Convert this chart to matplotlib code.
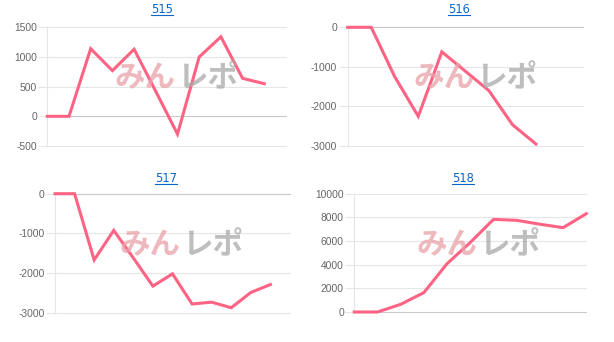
import matplotlib
matplotlib.use("Agg")
import matplotlib.pyplot as plt
from matplotlib.lines import Line2D

W, H = 614, 342
DPI = 100

titles = ["515", "516", "517", "518"]
n_slots = [12, 11, 13, 11]
values_515 = [0, 0, 1140, 770, 1130, 420, -300, 1000, 1340, 640, 550]
values_516 = [0, 0, -1250, -2250, -620, -1110, -1600, -2460, -2950]
values_517 = [0, 0, -1670, -925, -1620, -2330, -2020, -2780, -2735, -2875, -2490, -2290]
values_518 = [0, 0, 650, 1640, 4090, 5880, 7830, 7750, 7420, 7130, 8310]
all_values = [values_515, values_516, values_517, values_518]

yticks_list = [
    [-500, 0, 500, 1000, 1500],
    [-3000, -2000, -1000, 0],
    [-3000, -2000, -1000, 0],
    [0, 2000, 4000, 6000, 8000, 10000],
]

# axes boxes in pixels: left, right, top, bottom
boxes = [
    (47.3, 286.0, 27.3, 146.0),
    (347.7, 583.0, 27.3, 146.0),
    (55.0, 290.0, 193.7, 312.7),
    (354.3, 586.3, 193.7, 312.0),
]
title_pos = [(162.0, 13.3), (458.7, 13.3), (165.7, 181.7), (462.7, 181.7)]
mark_pos = [(176.5, 78.0), (475.5, 78.0), (181.0, 245.0), (478.0, 245.0)]

LINE = "#ff6384"
GRID = "#e6e6e6"
ZERO = "#c9c9c9"
TICK = "#666666"

fig = plt.figure(figsize=(W / DPI, H / DPI), dpi=DPI)
fig.patch.set_facecolor("white")

def fx(px):
    return px / W

def fy(py):
    return 1 - py / H

for i in range(4):
    l, r, t, b = boxes[i]
    ax = fig.add_axes([fx(l), fy(b), fx(r - l), (b - t) / H])
    vals = all_values[i]
    ax.plot(range(len(vals)), vals, color=LINE, lw=2.2, solid_joinstyle="miter", zorder=3, clip_on=False)
    ax.set_xlim(0, n_slots[i] - 1)
    yt = yticks_list[i]
    ax.set_ylim(yt[0], yt[-1])
    ax.set_yticks(yt)
    ax.set_yticklabels([str(v) for v in yt], fontsize=7.4, color=TICK,
                       fontfamily="Liberation Sans")
    ax.set_xticks([])
    for v in yt:
        ax.axhline(v, color=(ZERO if v == 0 else GRID), lw=0.8, zorder=1, clip_on=False)
    for s in ["top", "right", "bottom"]:
        ax.spines[s].set_visible(False)
    ax.spines["left"].set_color(GRID)
    ax.spines["left"].set_linewidth(0.8)
    ax.tick_params(axis="y", length=6.5, width=0.8, color=GRID, pad=1)
    ax.set_facecolor("none")

    # title (underlined link style)
    tx, ty = title_pos[i]
    fig.text(fx(tx), fy(ty), titles[i], ha="center", va="baseline",
             fontsize=8.3, color="#0a66c8", fontfamily="DejaVu Sans")
    fig.add_artist(Line2D([fx(tx - 11), fx(tx + 11)], [fy(ty + 2), fy(ty + 2)],
                          color="#0a66c8", lw=0.8))

    # watermark
    mx, my = mark_pos[i]
    fig.text(fx(mx - 1), fy(my), "みん", ha="right", va="center", fontsize=22,
             fontweight="bold", color="#e8a2a8", alpha=0.75,
             fontfamily="Noto Sans CJK JP", zorder=0)
    fig.text(fx(mx + 1), fy(my), "レポ", ha="left", va="center", fontsize=22,
             fontweight="bold", color="#a8a8a8", alpha=0.75,
             fontfamily="Noto Sans CJK JP", zorder=0)

fig.savefig("out.png", dpi=DPI, facecolor="white")
